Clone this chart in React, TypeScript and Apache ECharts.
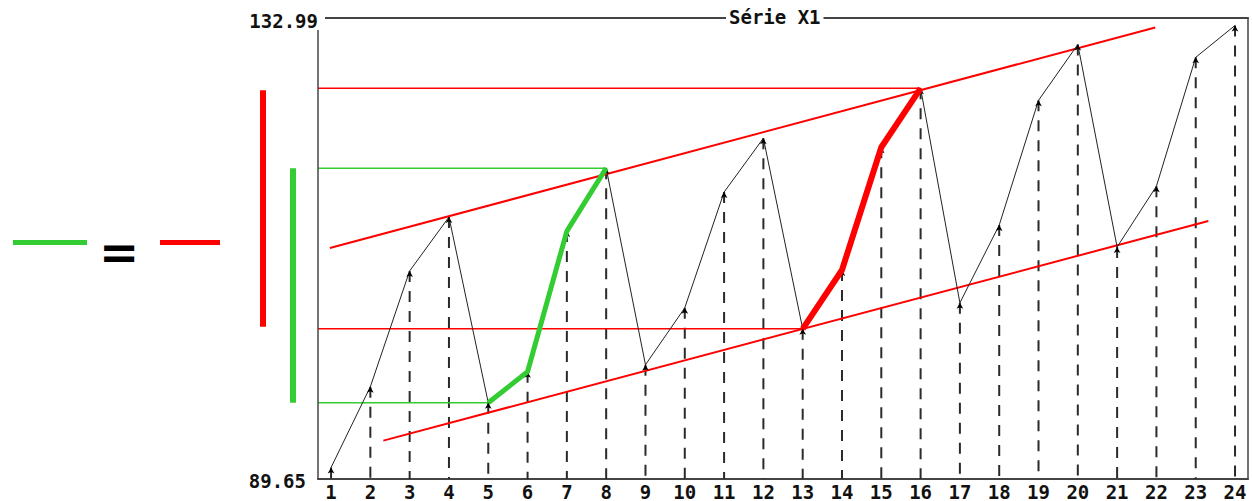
import React, { useEffect, useRef } from "react";
import * as echarts from "echarts";

// ---- data ----
const categories = ["1","2","3","4","5","6","7","8","9","10","11","12","13","14","15","16","17","18","19","20","21","22","23","24"];
const values = [90.73, 98.33, 109.21, 114.28, 96.82, 99.73, 112.96, 118.87, 100.39, 105.74, 116.62, 121.69, 103.77, 109.3, 120.84, 126.38, 106.21, 113.52, 125.25, 130.5, 111.46, 117.18, 129.29, 132.29];
const yTickLabels = [89.65, 132.99];
const upperTrend = [[0.97, 111.37], [21.97, 132.1]];
const lowerTrend = [[2.33, 93.26], [23.32, 113.9]];
const greenSwing = [5, 8]; // from point 5 to point 8
const redSwing = [13, 16]; // from point 13 to point 16
const seriesTitle = "Série X1";

const X_MIN = 0.668;
const X_MAX = 24.33;
const Y_MIN = yTickLabels[0];
const Y_MAX = yTickLabels[1];

const RED = "#ff0000";
const GREEN = "#33cc33";
const FONT = "DejaVu Sans Mono";

export default function App() {
  const ref = useRef<HTMLDivElement>(null);
  useEffect(() => {
    if (!ref.current) return;
    const chart = echarts.init(ref.current, undefined, { renderer: "svg" });
    const pts = values.map((v, i) => [Number(categories[i]), v]);
    const swingPts = (r: number[]) => pts.slice(r[0] - 1, r[1]);
    const level = (n: number) => [[X_MIN, values[n - 1]], [Number(categories[n - 1]), values[n - 1]]];

    const option: any = {
      animation: false,
      backgroundColor: "#ffffff",
      title: {
        text: seriesTitle,
        left: 726,
        top: 6,
        padding: [1, 3],
        backgroundColor: "#ffffff",
        textStyle: { fontFamily: FONT, fontWeight: "bold", fontSize: 19, color: "#111" },
      },
      grid: { left: 318, right: 4, top: 18, bottom: 20 },
      xAxis: [
        {
          type: "value",
          min: X_MIN,
          max: X_MAX,
          position: "bottom",
          axisLine: { show: true, onZero: false, lineStyle: { color: "#444", width: 2 } },
          axisTick: { show: false },
          splitLine: { show: false },
          axisLabel: {
            customValues: categories.map(Number),
            formatter: (v: number) => String(v),
            fontFamily: FONT,
            fontWeight: "bold",
            fontSize: 19,
            color: "#111",
            margin: 3,
          },
        },
        {
          type: "value",
          min: X_MIN,
          max: X_MAX,
          position: "top",
          axisLine: { show: true, onZero: false, lineStyle: { color: "#444", width: 2 } },
          axisTick: { show: false },
          splitLine: { show: false },
          axisLabel: { show: false },
        },
      ],
      yAxis: [
        {
          type: "value",
          min: Y_MIN,
          max: Y_MAX,
          z: 10,
          axisLine: { show: true, onZero: false, lineStyle: { color: "#444", width: 1.5 } },
          axisTick: { show: false },
          splitLine: { show: false },
          axisLabel: {
            customValues: yTickLabels,
            margin: -7,
            formatter: (v: number) => (v > 100 ? "{t|" + v.toFixed(2) + "}" : "{b|" + v.toFixed(2) + "}"),
            rich: {
              t: {
                fontFamily: FONT, fontWeight: "bold", fontSize: 19, color: "#111",
                backgroundColor: "#ffffff", padding: [5, 7, 0, 2],
              },
              b: {
                fontFamily: FONT, fontWeight: "bold", fontSize: 19, color: "#111",
                padding: [3, 19, 0, 0],
              },
            },
          },
        },
        {
          type: "value",
          min: Y_MIN,
          max: Y_MAX,
          position: "right",
          axisLine: { show: true, onZero: false, lineStyle: { color: "#444", width: 1.5 } },
          axisTick: { show: false },
          splitLine: { show: false },
          axisLabel: { show: false },
        },
      ],
      series: [
        {
          type: "custom",
          silent: true,
          z: 1,
          encode: { x: 0, y: 1 },
          data: pts,
          renderItem: (params: any, api: any) => {
            const p = api.coord([api.value(0), api.value(1)]);
            const b = api.coord([api.value(0), Y_MIN]);
            return {
              type: "line",
              shape: { x1: p[0], y1: p[1], x2: b[0], y2: b[1] },
              style: { stroke: "#2a2a2a", lineWidth: 2, lineDash: [11, 9] },
            };
          },
        },
        {
          type: "line", data: level(16), symbol: "none", silent: true, z: 2,
          lineStyle: { color: RED, width: 1.5 },
        },
        {
          type: "line", data: level(13), symbol: "none", silent: true, z: 2,
          lineStyle: { color: RED, width: 1.5 },
        },
        {
          type: "line", data: level(8), symbol: "none", silent: true, z: 2,
          lineStyle: { color: GREEN, width: 1.5 },
        },
        {
          type: "line", data: level(5), symbol: "none", silent: true, z: 2,
          lineStyle: { color: GREEN, width: 1.5 },
        },
        {
          type: "line", data: upperTrend, symbol: "none", silent: true, z: 2,
          lineStyle: { color: RED, width: 2 },
        },
        {
          type: "line", data: lowerTrend, symbol: "none", silent: true, z: 2,
          lineStyle: { color: RED, width: 2 },
        },
        {
          type: "line",
          data: pts,
          z: 3,
          symbol: "arrow",
          symbolSize: [5, 6],
          itemStyle: { color: "#000" },
          lineStyle: { color: "#222", width: 1 },
        },
        {
          type: "line", data: swingPts(greenSwing), symbol: "none", silent: true, z: 4,
          lineStyle: { color: GREEN, width: 5 },
        },
        {
          type: "line", data: swingPts(redSwing), symbol: "none", silent: true, z: 4,
          lineStyle: { color: RED, width: 6 },
        },
      ],
    };
    chart.setOption(option);

    const py = (v: number) => chart.convertToPixel({ yAxisIndex: 0 }, v) as number;
    const r1 = py(values[redSwing[1] - 1]);
    const r2 = py(values[redSwing[0] - 1]);
    const g1 = py(values[greenSwing[1] - 1]);
    const g2 = py(values[greenSwing[0] - 1]);
    chart.setOption({
      graphic: [
        { type: "rect", shape: { x: 13, y: 240, width: 74, height: 5 }, style: { fill: GREEN } },
        {
          type: "text",
          x: 119,
          y: 252,
          style: { text: "=", align: "center", verticalAlign: "middle", font: 'bold 48px "DejaVu Sans"', fill: "#000" },
        },
        { type: "rect", shape: { x: 160, y: 240, width: 60, height: 5 }, style: { fill: RED } },
        { type: "rect", shape: { x: 260, y: r1 + 2, width: 6, height: r2 - r1 - 4 }, style: { fill: RED } },
        { type: "rect", shape: { x: 290, y: g1, width: 6, height: g2 - g1 }, style: { fill: GREEN } },
      ],
    });

    return () => chart.dispose();
  }, []);
  return (
    <div
      ref={ref}
      style={{ position: "fixed", left: 0, top: 0, width: 1252, height: 501, background: "#fff" }}
    />
  );
}
